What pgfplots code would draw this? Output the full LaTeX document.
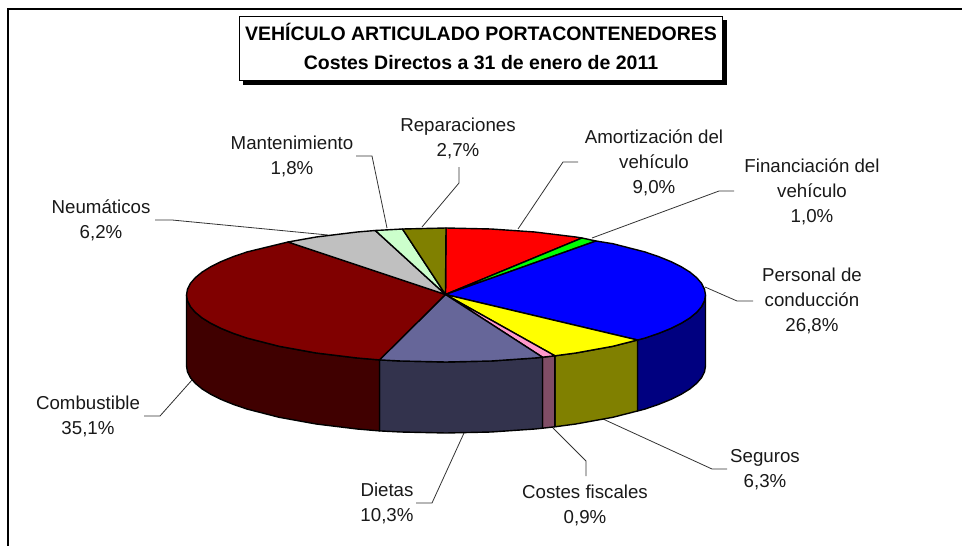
\documentclass[border=0pt]{standalone}
\usepackage{fontspec}
\setmainfont{Liberation Sans}
\usepackage{pgfplots}
\pgfplotsset{compat=1.18}

\definecolor{cRed}{HTML}{FF0000}
\definecolor{cGreen}{HTML}{00FF00}
\definecolor{cBlue}{HTML}{0000FF}
\definecolor{cBlueD}{HTML}{000080}
\definecolor{cYellow}{HTML}{FFFF00}
\definecolor{cOlive}{HTML}{808000}
\definecolor{cPink}{HTML}{FF99CC}
\definecolor{cPinkD}{HTML}{804D66}
\definecolor{cDiet}{HTML}{666699}
\definecolor{cDietD}{HTML}{33334D}
\definecolor{cFuel}{HTML}{800000}
\definecolor{cFuelD}{HTML}{400000}
\definecolor{cGrey}{HTML}{C0C0C0}
\definecolor{cMint}{HTML}{CCFFCC}
\definecolor{cLead}{HTML}{333333}

\tikzset{
    lab/.style={align=center, anchor=center, inner sep=0pt, text=black!90,
        font=\fontsize{18.7}{25}\selectfont},
}
\pgfplotsset{
    wedge/.style={draw=black, line width=1.4pt, line join=round, fill=#1},
    leader/.style={draw=cLead, line width=0.8pt},
}

\begin{document}
\begin{tikzpicture}
\useasboundingbox (0,0) rectangle (962pt,546pt);
\begin{axis}[
    at={(0,0)}, anchor=south west,
    scale only axis, width=962pt, height=546pt,
    xmin=0, xmax=962, ymin=0, ymax=546, y dir=reverse,
    hide axis, clip=false,
]
% frame, only left and top
\addplot[draw=black, line width=2pt] coordinates {(7.5,546) (7.5,9) (962,9)};

% leaders
\addplot[leader] coordinates {(459,167) (459,183) (422,227)};
\addplot[leader] coordinates {(356,156) (372,156) (387,228)};
\addplot[leader] coordinates {(155,220) (172,220) (328,235)};
\addplot[leader] coordinates {(518,229) (563,162) (578,162)};
\addplot[leader] coordinates {(592,238) (719,191) (734,191)};
\addplot[leader] coordinates {(705,287) (737,301) (753,301)};
\addplot[leader] coordinates {(603,419) (712,469) (727,469)};
\addplot[leader] coordinates {(553,428) (586,461) (586,476)};
\addplot[leader] coordinates {(464,433) (432,503) (416,503)};
\addplot[leader] coordinates {(192,380) (160,416) (144,416)};

% side walls
\addplot[wedge=cBlueD] coordinates {(705.5,295) (704.5,300.8) (701.6,306.6) (696.7,312.3) (689.9,317.9) (681.2,323.3)
    (670.7,328.5) (658.6,333.4) (644.8,338.1) (637.5,340)
    (637.5,411) (644.8,409.1) (658.6,404.4) (670.7,399.5) (681.2,394.3) (689.9,388.9) (696.7,383.3)
    (701.6,377.6) (704.5,371.8) (705.5,366)} --cycle;
\addplot[wedge=cOlive] coordinates {(637.5,340) (612.8,346.3) (575.8,353) (554.9,355.8)
    (554.9,426.8) (575.8,424) (612.8,417.3) (637.5,411)} --cycle;
\addplot[wedge=cPinkD] coordinates {(554.9,355.8) (542.5,357.2) (542.5,428.2) (554.9,426.8)} --cycle;
\addplot[wedge=cDietD] coordinates {(542.5,357.2) (534.8,358) (491.1,361) (446,362) (400.9,361) (379.5,359.9)
    (379.5,430.9) (400.9,432) (446,433) (491.1,432) (534.8,429) (542.5,428.2)} --cycle;
\addplot[wedge=cFuelD] coordinates {(379.5,359.9) (357.2,358) (316.2,353) (279.2,346.3) (247.2,338.1) (233.4,333.4)
    (221.3,328.5) (210.8,323.3) (202.1,317.9) (195.3,312.3) (190.4,306.6) (187.5,300.8) (186.5,295)
    (186.5,366) (187.5,371.8) (190.4,377.6) (195.3,383.3) (202.1,388.9) (210.8,394.3) (221.3,399.5)
    (233.4,404.4) (247.2,409.1) (279.2,417.3) (316.2,424) (357.2,429) (379.5,430.9)} --cycle;

% top of the pie
\addplot[wedge=cRed] coordinates {(445.5,294.5) (446,228) (491.1,229) (534.8,232) (575.8,237) (582,238)} --cycle;
\addplot[wedge=cGreen] coordinates {(445.5,294.5) (582,238) (596,241)} --cycle;
\addplot[wedge=cBlue] coordinates {(445.5,294.5) (596,241) (612.8,243.7) (644.8,251.9) (658.6,256.6) (670.7,261.5)
    (681.2,266.7) (689.9,272.1) (696.7,277.7) (701.6,283.4) (704.5,289.2) (705.5,295) (704.5,300.8) (701.6,306.6)
    (696.7,312.3) (689.9,317.9) (681.2,323.3) (670.7,328.5) (658.6,333.4) (644.8,338.1) (637.5,340)} --cycle;
\addplot[wedge=cYellow] coordinates {(445.5,294.5) (637.5,340) (612.8,346.3) (575.8,353) (554.9,355.8)} --cycle;
\addplot[wedge=cPink] coordinates {(445.5,294.5) (554.9,355.8) (542.5,357.2)} --cycle;
\addplot[wedge=cDiet] coordinates {(445.5,294.5) (542.5,357.2) (534.8,358) (491.1,361) (446,362) (400.9,361) (379.5,359.9)} --cycle;
\addplot[wedge=cFuel] coordinates {(445.5,294.5) (379.5,359.9) (357.2,358) (316.2,353) (279.2,346.3) (247.2,338.1)
    (233.4,333.4) (221.3,328.5) (210.8,323.3) (202.1,317.9) (195.3,312.3) (190.4,306.6) (187.5,300.8) (186.5,295)
    (187.5,289.2) (190.4,283.4) (195.3,277.7) (202.1,272.1) (210.8,266.7) (221.3,261.5) (233.4,256.6)
    (247.2,251.9) (288,242)} --cycle;
\addplot[wedge=cGrey] coordinates {(445.5,294.5) (288,242) (316.2,237) (357.2,232) (375.3,230.5)} --cycle;
\addplot[wedge=cMint] coordinates {(445.5,294.5) (375.3,230.5) (402.5,229)} --cycle;
\addplot[wedge=cOlive] coordinates {(445.5,294.5) (402.5,229) (446,228)} --cycle;

% title box with shadow
\addplot[draw=none, fill=black] coordinates {(243,20) (727,20) (727,85) (243,85)} --cycle;
\addplot[draw=black, line width=1.2pt, fill=white] coordinates {(239.5,16.5) (722.5,16.5) (722.5,80.5) (239.5,80.5)} --cycle;
\node[align=center, inner sep=0pt, font=\bfseries\fontsize{19.5}{29}\selectfont] at (axis cs:481,46.5)
    {VEHÍCULO ARTICULADO PORTACONTENEDORES\\Costes Directos a 31 de enero de 2011};

% labels
\node[lab] at (axis cs:458,138.5) {Reparaciones\\2,7\%};
\node[lab] at (axis cs:292,156) {Mantenimiento\\1,8\%};
\node[lab] at (axis cs:101,220.5) {Neumáticos\\6,2\%};
\node[lab] at (axis cs:654,163) {Amortización del\\vehículo\\9,0\%};
\node[lab] at (axis cs:812,192) {Financiación del\\vehículo\\1,0\%};
\node[lab] at (axis cs:812,301) {Personal de\\conducción\\26,8\%};
\node[lab] at (axis cs:765,469.5) {Seguros\\6,3\%};
\node[lab] at (axis cs:585,505.5) {Costes fiscales\\0,9\%};
\node[lab] at (axis cs:387,503.5) {Dietas\\10,3\%};
\node[lab] at (axis cs:88,416.5) {Combustible\\35,1\%};
\end{axis}
\end{tikzpicture}
\end{document}
